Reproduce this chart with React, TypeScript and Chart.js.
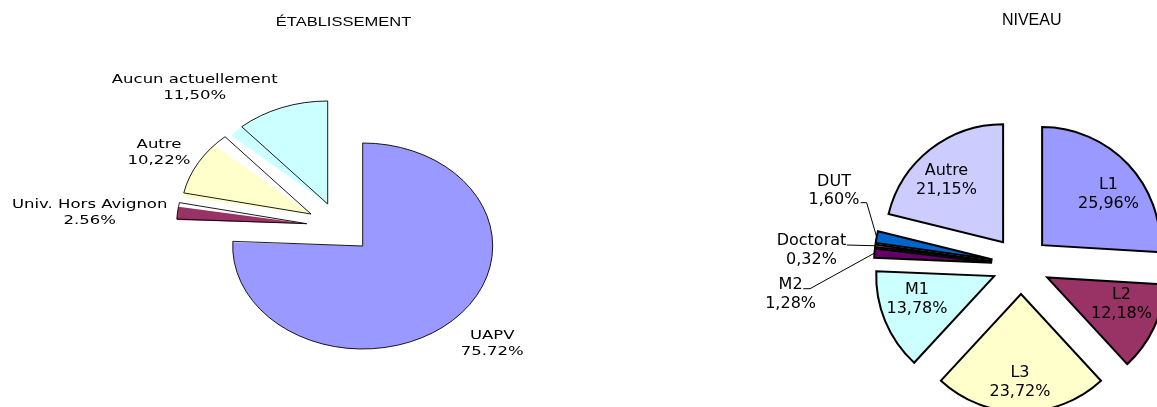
import React, { useEffect, useRef } from 'react';
import { Chart, PieController, ArcElement } from 'chart.js';

Chart.register(PieController, ArcElement);

// ---------------- data ----------------
const chartTitles = ['ÉTABLISSEMENT', 'NIVEAU'];

const etabCategories = ['UAPV', 'Univ. Hors Avignon', 'Autre', 'Aucun actuellement'];
const etabValues = [75.72, 2.56, 10.22, 11.5];
const etabPercentLabels = ['75.72%', '2.56%', '10,22%', '11,50%'];

const niveauCategories = ['L1', 'L2', 'L3', 'M1', 'M2', 'Doctorat', 'DUT', 'Autre'];
const niveauValues = [25.96, 12.18, 23.72, 13.78, 1.28, 0.32, 1.6, 21.15];
const niveauPercentLabels = ['25,96%', '12,18%', '23,72%', '13,78%', '1,28%', '0,32%', '1,60%', '21,15%'];

// ---------------- styles / layout ----------------
const PALETTE = ['#9999FF', '#993366', '#FFFFCC', '#CCFFFF', '#660066', '#FF8080', '#0066CC', '#CCCCFF'];
const W = 1157;
const H = 407;

const LEFT = { cx: 362.7, cy: 246, rx: 130, ry: 103, sx: 1.27, font: 13, lineGap: 16 };
// explode shift of each slice, in screen pixels
const LEFT_EXPLODE = [[0, 0], [-56, -22.3], [-51.7, -32], [-35, -42]];
// label anchor (center x, first baseline) relative to pie centre
const LEFT_LABEL_POS = [[129.6, 92.5], [-273, -38.5], [-203.7, -97.7], [-168, -162.7]];
const LEFT_TITLE_POS = [343.5, 26];

const RIGHT = { cx: 1021, cy: 265, r: 118, explode: 29, font: 16, lineGap: 18.5 };
const RIGHT_LABEL_POS = [
  [87.5, -75.7], [100.5, 34], [-1, 112.3], [-104, 29],
  [-230.4, 24.3], [-209.5, -20], [-187, -79.3], [-74.5, -90],
];
const RIGHT_LEADERS: (number[][] | null)[] = [
  null, null, null, null,
  [[-217.7, 23.7], [-211, 23.7]],
  [[-174.3, -20]],
  [[-160.3, -62.3], [-154.3, -62.3]],
  null,
];
const RIGHT_TITLE_POS = [1031.7, 25];

const LABEL_FONT = '"DejaVu Sans", Verdana, sans-serif';
const TITLE_FONT = '"Liberation Sans", Arial, sans-serif';

function centerOf(chart: any) {
  const a = chart.chartArea;
  return { cx: (a.left + a.right) / 2, cy: (a.top + a.bottom) / 2 };
}

// angle of a parametric ellipse point as seen on screen
function projAngle(a: number, k: number) {
  const p = Math.atan2(k * Math.sin(a), Math.cos(a));
  let d = p - a;
  while (d > Math.PI) d -= 2 * Math.PI;
  while (d < -Math.PI) d += 2 * Math.PI;
  return a + d;
}

const leftPlugin = {
  id: 'leftEllipsePie',
  afterDatasetsUpdate(chart: any) {
    const meta = chart.getDatasetMeta(0);
    const { cx, cy } = centerOf(chart);
    const k = LEFT.ry / LEFT.rx;
    meta.data.forEach((arc: any, i: number) => {
      arc.x = cx + LEFT_EXPLODE[i][0];
      arc.y = cy + LEFT_EXPLODE[i][1] / k;
    });
  },
  beforeDatasetDraw(chart: any, args: any) {
    const ctx = chart.ctx;
    const { cx, cy } = centerOf(chart);
    const k = LEFT.ry / LEFT.rx;
    const arcs = args.meta.data;
    ctx.save();
    ctx.translate(cx, cy);
    ctx.scale(1, k);
    ctx.translate(-cx, -cy);
    // fill pass (fills drawn with the doubly projected angles, as in the source)
    arcs.forEach((arc: any) => {
      const o = arc.options;
      const s = arc.startAngle, e = arc.endAngle, c = arc.circumference;
      arc.startAngle = projAngle(s, k);
      arc.endAngle = projAngle(e, k);
      arc.circumference = arc.endAngle - arc.startAngle;
      arc.options = Object.assign({}, o, { borderWidth: 0 });
      arc.draw(ctx);
      arc.startAngle = s; arc.endAngle = e; arc.circumference = c;
      arc.options = o;
    });
    // outline pass
    arcs.forEach((arc: any) => {
      const o = arc.options;
      arc.options = Object.assign({}, o, { backgroundColor: 'rgba(0,0,0,0)' });
      arc.draw(ctx);
      arc.options = o;
    });
    ctx.restore();
    return false;
  },
  afterDraw(chart: any) {
    const ctx = chart.ctx;
    const { cx, cy } = centerOf(chart);
    const drawText = (t: string, x: number, y: number, font: string) => {
      ctx.save();
      ctx.translate(x, y);
      ctx.scale(LEFT.sx, 1);
      ctx.font = font;
      ctx.fillStyle = '#000';
      ctx.textAlign = 'center';
      ctx.textBaseline = 'alphabetic';
      ctx.fillText(t, 0, 0);
      ctx.restore();
    };
    drawText(chartTitles[0], LEFT_TITLE_POS[0], LEFT_TITLE_POS[1], `${LEFT.font}px ${TITLE_FONT}`);
    const f = `${LEFT.font}px ${LABEL_FONT}`;
    etabCategories.forEach((name, i) => {
      const x = cx + LEFT_LABEL_POS[i][0];
      const y = cy + LEFT_LABEL_POS[i][1];
      drawText(name, x, y, f);
      drawText(etabPercentLabels[i], x, y + LEFT.lineGap, f);
    });
  },
};

const rightPlugin = {
  id: 'rightExplodedPie',
  afterDatasetsUpdate(chart: any) {
    const meta = chart.getDatasetMeta(0);
    const { cx, cy } = centerOf(chart);
    meta.data.forEach((arc: any) => {
      const mid = (arc.startAngle + arc.endAngle) / 2;
      arc.x = cx + Math.cos(mid) * RIGHT.explode;
      arc.y = cy + Math.sin(mid) * RIGHT.explode;
    });
  },
  afterDraw(chart: any) {
    const ctx = chart.ctx;
    const { cx, cy } = centerOf(chart);
    const meta = chart.getDatasetMeta(0);
    ctx.save();
    ctx.fillStyle = '#000';
    ctx.textAlign = 'center';
    ctx.textBaseline = 'alphabetic';
    ctx.font = `16px ${TITLE_FONT}`;
    ctx.fillText(chartTitles[1], RIGHT_TITLE_POS[0], RIGHT_TITLE_POS[1]);
    ctx.font = `${RIGHT.font}px ${LABEL_FONT}`;
    niveauCategories.forEach((name, i) => {
      const x = cx + RIGHT_LABEL_POS[i][0];
      const y = cy + RIGHT_LABEL_POS[i][1];
      ctx.fillText(name, x, y);
      ctx.fillText(niveauPercentLabels[i], x, y + RIGHT.lineGap);
    });
    // leader lines
    ctx.strokeStyle = '#000';
    ctx.lineWidth = 1;
    RIGHT_LEADERS.forEach((pts, i) => {
      if (!pts) return;
      const arc: any = meta.data[i];
      const mid = (arc.startAngle + arc.endAngle) / 2;
      const ax = arc.x + Math.cos(mid) * arc.outerRadius;
      const ay = arc.y + Math.sin(mid) * arc.outerRadius;
      ctx.beginPath();
      pts.forEach((p, j) => {
        const px = cx + p[0], py = cy + p[1];
        if (j === 0) ctx.moveTo(px, py); else ctx.lineTo(px, py);
      });
      ctx.lineTo(ax, ay);
      ctx.stroke();
    });
    ctx.restore();
  },
};

export default function App() {
  const leftRef = useRef<HTMLCanvasElement>(null);
  const rightRef = useRef<HTMLCanvasElement>(null);

  useEffect(() => {
    const left = new Chart(leftRef.current as HTMLCanvasElement, {
      type: 'pie',
      data: {
        labels: etabCategories,
        datasets: [{
          data: etabValues,
          backgroundColor: PALETTE.slice(0, etabValues.length),
          borderColor: '#000',
          borderWidth: 1,
          borderJoinStyle: 'miter',
          radius: LEFT.rx,
        } as any],
      },
      options: {
        responsive: false,
        animation: false,
        events: [],
        layout: { padding: { left: 0, right: W - 2 * LEFT.cx, top: 2 * LEFT.cy - H, bottom: 0 } },
      } as any,
      plugins: [leftPlugin as any],
    });

    const right = new Chart(rightRef.current as HTMLCanvasElement, {
      type: 'pie',
      data: {
        labels: niveauCategories,
        datasets: [{
          data: niveauValues,
          backgroundColor: PALETTE.slice(0, niveauValues.length),
          borderColor: '#000',
          borderWidth: 2,
          borderJoinStyle: 'miter',
          radius: RIGHT.r,
        } as any],
      },
      options: {
        responsive: false,
        animation: false,
        events: [],
        layout: { padding: { left: 2 * RIGHT.cx - W, right: 0, top: 2 * RIGHT.cy - H, bottom: 0 } },
      } as any,
      plugins: [rightPlugin as any],
    });

    return () => {
      left.destroy();
      right.destroy();
    };
  }, []);

  const canvasStyle: React.CSSProperties = { position: 'absolute', left: 0, top: 0, width: W, height: H };
  return (
    <div style={{ position: 'fixed', left: 0, top: 0, width: W, height: H, overflow: 'hidden', background: '#fff' }}>
      <canvas ref={leftRef} width={W} height={H} style={canvasStyle} />
      <canvas ref={rightRef} width={W} height={H} style={canvasStyle} />
    </div>
  );
}
